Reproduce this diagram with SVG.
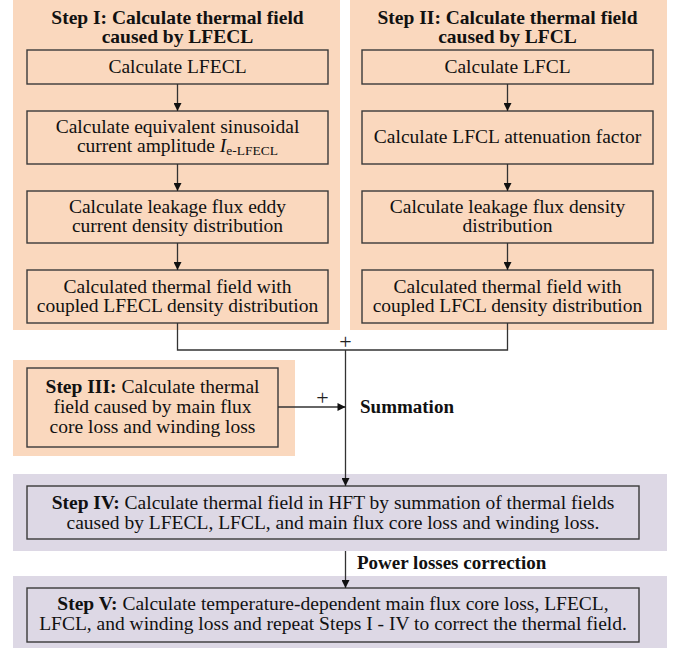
<svg xmlns="http://www.w3.org/2000/svg" width="679" height="653" viewBox="0 0 679 653">
<defs>
<marker id="ah" viewBox="0 0 10 10" refX="10" refY="5" markerWidth="9" markerHeight="8" markerUnits="userSpaceOnUse" orient="auto">
<path d="M0,0 L10,5 L0,10 z" fill="#111"/>
</marker>
<style>
.po{fill:#FAD8BE;stroke:none}
.pl{fill:#DDD8E5;stroke:none}
.bx{fill:none;stroke:#3a3a3a;stroke-width:1.4}
.t{font-size:19.5px;fill:#111;text-anchor:middle}
.s{font-size:19px;fill:#111;text-anchor:start;font-weight:bold}
.b{font-weight:bold}
.ln{fill:none;stroke:#333;stroke-width:1.3}
.pl2{font-size:22px;fill:#222;text-anchor:middle}
</style>
</defs>
<rect width="679" height="653" fill="#fff"/>
<g font-family="'Liberation Serif', 'DejaVu Serif', serif">
<g id="step1">
<rect class="po" x="13" y="0" width="327" height="330"/>
<text class="t b" x="177.5" y="24">Step I: Calculate thermal field</text>
<text class="t b" x="177.5" y="43">caused by LFECL</text>
</g>
<g id="s1b1"><rect class="bx" x="27" y="50" width="301" height="34"/><text class="t" x="177.5" y="73">Calculate LFECL</text></g>
<g id="s1b2"><rect class="bx" x="27" y="111" width="301" height="53"/><text class="t" x="177.5" y="133">Calculate equivalent sinusoidal</text><text class="t" x="177.5" y="152">current amplitude <tspan font-style="italic">I</tspan><tspan font-size="13.5" dy="3">e-LFECL</tspan></text></g>
<g id="s1b3"><rect class="bx" x="27" y="191" width="301" height="52"/><text class="t" x="177.5" y="213">Calculate leakage flux eddy</text><text class="t" x="177.5" y="232">current density distribution</text></g>
<g id="s1b4"><rect class="bx" x="27" y="270" width="301" height="53"/><text class="t" x="177.5" y="293">Calculated thermal field with</text><text class="t" x="177.5" y="312">coupled LFECL density distribution</text></g>

<g id="step2">
<rect class="po" x="350" y="0" width="317" height="330"/>
<text class="t b" x="507.5" y="24">Step II: Calculate thermal field</text>
<text class="t b" x="507.5" y="43">caused by LFCL</text>
</g>
<g id="s2b1"><rect class="bx" x="362" y="50" width="291" height="34"/><text class="t" x="507.5" y="73">Calculate LFCL</text></g>
<g id="s2b2"><rect class="bx" x="362" y="111" width="291" height="53"/><text class="t" x="507.5" y="143">Calculate LFCL attenuation factor</text></g>
<g id="s2b3"><rect class="bx" x="362" y="191" width="291" height="52"/><text class="t" x="507.5" y="213">Calculate leakage flux density</text><text class="t" x="507.5" y="232">distribution</text></g>
<g id="s2b4"><rect class="bx" x="362" y="270" width="291" height="53"/><text class="t" x="507.5" y="293">Calculated thermal field with</text><text class="t" x="507.5" y="312">coupled LFCL density distribution</text></g>

<g id="step3">
<rect class="po" x="13" y="360" width="282" height="96"/>
<rect class="bx" x="27" y="368" width="251" height="79"/>
<text class="t" x="152.5" y="393"><tspan font-weight="bold">Step III:</tspan> Calculate thermal</text>
<text class="t" x="152.5" y="413">field caused by main flux</text>
<text class="t" x="152.5" y="433">core loss and winding loss</text>
</g>

<g id="step4">
<rect class="pl" x="13" y="474" width="654" height="77"/>
<rect class="bx" x="27" y="486" width="612" height="53"/>
<text class="t" x="333" y="509"><tspan font-weight="bold">Step IV:</tspan> Calculate thermal field in HFT by summation of thermal fields</text>
<text class="t" x="333" y="529">caused by LFECL, LFCL, and main flux core loss and winding loss.</text>
</g>

<g id="step5">
<rect class="pl" x="13" y="576" width="654" height="72"/>
<rect class="bx" x="27" y="588" width="612" height="54"/>
<text class="t" x="333" y="610"><tspan font-weight="bold">Step V:</tspan> Calculate temperature-dependent main flux core loss, LFECL,</text>
<text class="t" x="333" y="630">LFCL, and winding loss and repeat Steps I - IV to correct the thermal field.</text>
</g>

<g id="connectors">
<line class="ln" x1="177.5" y1="84" x2="177.5" y2="111" marker-end="url(#ah)"/>
<line class="ln" x1="177.5" y1="164" x2="177.5" y2="191" marker-end="url(#ah)"/>
<line class="ln" x1="177.5" y1="243" x2="177.5" y2="270" marker-end="url(#ah)"/>
<line class="ln" x1="507.5" y1="84" x2="507.5" y2="111" marker-end="url(#ah)"/>
<line class="ln" x1="507.5" y1="164" x2="507.5" y2="191" marker-end="url(#ah)"/>
<line class="ln" x1="507.5" y1="243" x2="507.5" y2="270" marker-end="url(#ah)"/>
<polyline class="ln" points="177.5,323 177.5,350 507.5,350 507.5,323"/>
<line class="ln" x1="345.5" y1="350" x2="345.5" y2="486" marker-end="url(#ah)"/>
<line class="ln" x1="278" y1="407" x2="345.5" y2="407" marker-end="url(#ah)"/>
<line class="ln" x1="345.5" y1="551" x2="345.5" y2="588" marker-end="url(#ah)"/>
<text class="pl2" x="345.5" y="349">+</text>
<text class="pl2" x="322.5" y="405">+</text>
<text class="s" x="360" y="413">Summation</text>
<text class="s" x="357" y="569">Power losses correction</text>
</g>
</g>
</svg>
